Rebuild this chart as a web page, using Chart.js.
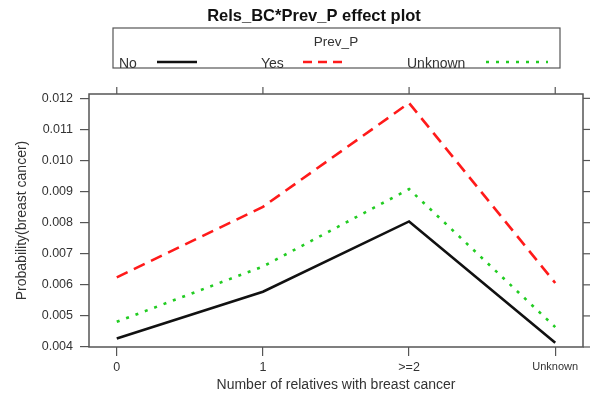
<!DOCTYPE html>
<html>
<head>
<meta charset="utf-8">
<script src="https://cdn.jsdelivr.net/npm/chart.js@4"></script>
<style>
  html, body { margin: 0; padding: 0; background: #fff; }
  #wrap { width: 592px; height: 401px; }
</style>
</head>
<body>
<div id="wrap"><canvas id="c"></canvas></div>
<script>
// categories (x) and tick values (y)
const categories = ['0', '1', '>=2', 'Unknown'];
const yTicks = [0.004, 0.005, 0.006, 0.007, 0.008, 0.009, 0.010, 0.011, 0.012];

// series
const seriesNo = [0.00427, 0.00578, 0.00804, 0.00414];
const seriesYes = [0.00624, 0.00851, 0.01185, 0.00606];
const seriesUnknown = [0.00481, 0.00659, 0.00908, 0.00464];

const TEXT = '#333';
const AXIS = '#555';
const FAMILY = '"Liberation Sans", Arial, sans-serif';

// titre + clé (style lattice) + cadre et petites graduations en haut / à droite
const decorPlugin = {
  id: 'decor',
  afterDraw(chart) {
    const { ctx, chartArea: a, scales } = chart;
    ctx.save();

    // cadre du panneau
    ctx.strokeStyle = AXIS;
    ctx.lineWidth = 1.5;
    ctx.strokeRect(a.left, a.top, a.right - a.left, a.bottom - a.top);

    // graduations en haut
    ctx.lineWidth = 1.2;
    categories.forEach((_, i) => {
      const x = scales.x.getPixelForValue(i);
      ctx.beginPath(); ctx.moveTo(x, a.top); ctx.lineTo(x, a.top - 7); ctx.stroke();
    });
    // graduations à droite
    yTicks.forEach(v => {
      const y = scales.y.getPixelForValue(v);
      ctx.beginPath(); ctx.moveTo(a.right, y); ctx.lineTo(a.right + 7, y); ctx.stroke();
    });

    // titre
    ctx.fillStyle = '#111';
    ctx.font = 'bold 16.5px ' + FAMILY;
    ctx.textAlign = 'center';
    ctx.textBaseline = 'middle';
    ctx.fillText('Rels_BC*Prev_P effect plot', 314, 16);

    // clé
    ctx.strokeStyle = AXIS;
    ctx.lineWidth = 1.2;
    ctx.strokeRect(113, 28, 447, 40);
    ctx.fillStyle = TEXT;
    ctx.font = '13.5px ' + FAMILY;
    ctx.fillText('Prev_P', 336, 42);

    const items = [
      { label: 'No', tx: 119, x0: 157, x1: 197, color: '#111', dash: [] },
      { label: 'Yes', tx: 261, x0: 303, x1: 344, color: '#ff1a1a', dash: [9, 6] },
      { label: 'Unknown', tx: 407, x0: 486, x1: 548, color: '#22cc22', dash: [3, 7] }
    ];
    ctx.font = '14px ' + FAMILY;
    ctx.textAlign = 'left';
    ctx.textBaseline = 'alphabetic';
    items.forEach(it => {
      ctx.fillStyle = TEXT;
      ctx.fillText(it.label, it.tx, 68);
      ctx.strokeStyle = it.color;
      ctx.lineWidth = 2.5;
      ctx.setLineDash(it.dash);
      ctx.beginPath(); ctx.moveTo(it.x0, 62); ctx.lineTo(it.x1, 62); ctx.stroke();
      ctx.setLineDash([]);
    });
    ctx.restore();
  }
};

const mkSet = (label, data, color, dash) => ({
  label,
  data: data.map((v, i) => ({ x: i, y: v })),
  borderColor: color,
  borderWidth: 2.6,
  borderDash: dash,
  borderCapStyle: 'butt',
  pointRadius: 0,
  tension: 0,
  fill: false
});

new Chart(document.getElementById('c'), {
  type: 'line',
  data: {
    datasets: [
      mkSet('Yes', seriesYes, '#ff1a1a', [12, 7]),
      mkSet('Unknown', seriesUnknown, '#22cc22', [3, 7]),
      mkSet('No', seriesNo, '#111', [])
    ]
  },
  options: {
    responsive: true,
    maintainAspectRatio: false,
    animation: false,
    layout: { padding: { top: 94, right: 9, left: 0, bottom: 0 } },
    plugins: {
      legend: { display: false },
      tooltip: { enabled: false }
    },
    scales: {
      x: {
        type: 'linear',
        min: -0.19,
        max: 3.19,
        afterBuildTicks: s => { s.ticks = categories.map((_, i) => ({ value: i })); },
        afterFit: s => { s.height = 54; },
        ticks: {
          callback: v => categories[v],
          color: TEXT,
          padding: 4,
          maxRotation: 0,
          autoSkip: false,
          font: c => ({ family: FAMILY, size: c.index === 3 ? 11 : 12.5 })
        },
        grid: { drawOnChartArea: false, tickLength: 9, color: AXIS, lineWidth: 1.2 },
        border: { display: false },
        title: {
          display: true,
          text: 'Number of relatives with breast cancer',
          color: TEXT,
          font: { family: FAMILY, size: 14 },
          padding: { top: 0, bottom: 7.5 }
        }
      },
      y: {
        min: 0.004,
        max: 0.01214,
        afterBuildTicks: s => { s.ticks = yTicks.map(v => ({ value: v })); },
        afterFit: s => { s.width = 89; },
        ticks: {
          callback: v => v.toFixed(3),
          color: TEXT,
          padding: 7,
          font: { family: FAMILY, size: 12.5 }
        },
        grid: { drawOnChartArea: false, tickLength: 9, color: AXIS, lineWidth: 1.2 },
        border: { display: false },
        title: {
          display: true,
          text: 'Probability(breast cancer)',
          color: TEXT,
          font: { family: FAMILY, size: 14 },
          padding: { top: 13.5, bottom: 0 }
        }
      }
    }
  },
  plugins: [decorPlugin]
});
</script>
</body>
</html>
